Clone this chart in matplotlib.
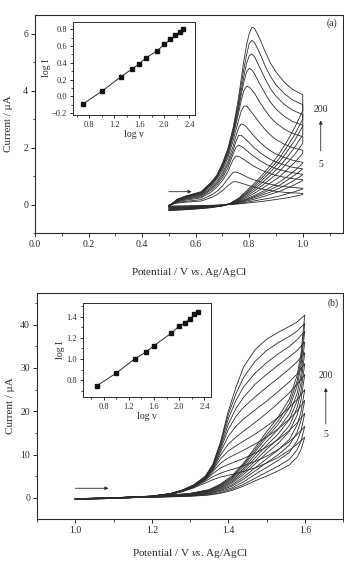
import matplotlib
matplotlib.use("Agg")
import matplotlib.pyplot as plt
import numpy as np
from matplotlib.ticker import MultipleLocator

plt.rcParams["font.family"] = ["Liberation Serif", "DejaVu Serif"]
plt.rcParams["mathtext.fontset"] = "custom"
plt.rcParams["mathtext.rm"] = "Liberation Serif"
plt.rcParams["mathtext.it"] = "Liberation Serif:italic"

INK = "#2b2b2b"

# ---- panel (a): CVs 0.5 -> 1.0 V, scan rates 5..200 mV/s ----
rates_a = [5, 10, 20, 30, 40, 50, 75, 100, 125, 150, 175, 200]
E_fwd_a = [0.50, 0.53, 0.56, 0.62, 0.66, 0.68, 0.70, 0.72,
           0.74, 0.75, 0.76, 0.77, 0.78, 0.79, 0.80, 0.81, 0.82, 0.84,
           0.86, 0.88, 0.90, 0.93, 0.96, 1.00]
I_fwd_a = [
    [-0.02, 0.05, 0.08, 0.12, 0.25, 0.35, 0.49, 0.66,
     0.80, 0.80, 0.78, 0.75, 0.72, 0.69, 0.66, 0.63, 0.61, 0.56,
     0.52, 0.49, 0.46, 0.43, 0.41, 0.39],
    [-0.03, 0.07, 0.11, 0.17, 0.34, 0.47, 0.65, 0.90,
     1.13, 1.14, 1.11, 1.07, 1.02, 0.97, 0.93, 0.89, 0.86, 0.80,
     0.75, 0.71, 0.67, 0.63, 0.60, 0.57],
    [-0.03, 0.09, 0.15, 0.23, 0.45, 0.62, 0.84, 1.15,
     1.58, 1.70, 1.69, 1.64, 1.58, 1.51, 1.45, 1.39, 1.33, 1.23,
     1.15, 1.08, 1.02, 0.96, 0.91, 0.87],
    [-0.04, 0.11, 0.18, 0.27, 0.52, 0.70, 0.94, 1.28,
     1.78, 2.00, 2.08, 2.04, 1.98, 1.90, 1.82, 1.74, 1.67, 1.54,
     1.43, 1.34, 1.26, 1.18, 1.12, 1.06],
    [-0.04, 0.12, 0.20, 0.30, 0.57, 0.76, 1.02, 1.40,
     1.90, 2.20, 2.42, 2.43, 2.35, 2.26, 2.17, 2.07, 1.98, 1.82,
     1.69, 1.58, 1.49, 1.39, 1.31, 1.25],
    [-0.05, 0.13, 0.22, 0.33, 0.62, 0.82, 1.10, 1.50,
     2.05, 2.40, 2.68, 2.83, 2.80, 2.72, 2.60, 2.49, 2.38, 2.18,
     2.02, 1.88, 1.77, 1.65, 1.56, 1.48],
    [-0.05, 0.14, 0.24, 0.36, 0.68, 0.90, 1.20, 1.64,
     2.25, 2.60, 2.95, 3.28, 3.45, 3.45, 3.35, 3.22, 3.10, 2.85,
     2.62, 2.43, 2.28, 2.12, 2.00, 1.90],
    [-0.05, 0.15, 0.25, 0.38, 0.72, 0.95, 1.28, 1.74,
     2.40, 2.80, 3.20, 3.65, 4.00, 4.15, 4.12, 4.02, 3.90, 3.58,
     3.30, 3.05, 2.86, 2.65, 2.50, 2.38],
    [-0.06, 0.16, 0.26, 0.40, 0.74, 0.98, 1.32, 1.80,
     2.48, 2.90, 3.35, 3.85, 4.30, 4.65, 4.78, 4.72, 4.58, 4.22,
     3.88, 3.58, 3.35, 3.10, 2.92, 2.78],
    [-0.06, 0.17, 0.27, 0.42, 0.76, 1.00, 1.36, 1.85,
     2.55, 3.00, 3.45, 4.00, 4.50, 4.95, 5.22, 5.28, 5.18, 4.80,
     4.40, 4.05, 3.80, 3.52, 3.32, 3.15],
    [-0.07, 0.17, 0.28, 0.43, 0.78, 1.02, 1.40, 1.90,
     2.62, 3.10, 3.60, 4.20, 4.75, 5.25, 5.65, 5.76, 5.68, 5.30,
     4.85, 4.48, 4.20, 3.90, 3.68, 3.50],
    [-0.07, 0.18, 0.29, 0.45, 0.80, 1.05, 1.45, 1.95,
     2.70, 3.20, 3.75, 4.40, 5.05, 5.60, 6.00, 6.22, 6.18, 5.80,
     5.35, 4.95, 4.65, 4.30, 4.05, 3.85],
]
E_rev_a = [1.00, 0.97, 0.94, 0.91, 0.88, 0.85, 0.82, 0.79, 0.76, 0.73,
           0.70, 0.65, 0.60, 0.55, 0.50]
I_rev_a = [
    [0.35, 0.29, 0.23, 0.19, 0.15, 0.11, 0.08, 0.05, 0.02, 0.00, -0.01, -0.03, -0.04, -0.05, -0.05],
    [0.55, 0.45, 0.37, 0.29, 0.23, 0.18, 0.13, 0.08, 0.04, 0.00, -0.02, -0.04, -0.05, -0.06, -0.07],
    [0.85, 0.70, 0.57, 0.45, 0.36, 0.27, 0.19, 0.12, 0.06, 0.01, -0.02, -0.05, -0.07, -0.08, -0.09],
    [1.05, 0.86, 0.70, 0.56, 0.44, 0.34, 0.24, 0.15, 0.07, 0.01, -0.02, -0.06, -0.08, -0.10, -0.11],
    [1.25, 1.03, 0.84, 0.66, 0.53, 0.40, 0.28, 0.18, 0.08, 0.01, -0.03, -0.06, -0.09, -0.11, -0.12],
    [1.45, 1.19, 0.97, 0.77, 0.61, 0.46, 0.32, 0.20, 0.10, 0.02, -0.03, -0.07, -0.10, -0.12, -0.13],
    [1.80, 1.48, 1.21, 0.95, 0.76, 0.57, 0.40, 0.25, 0.12, 0.02, -0.03, -0.08, -0.11, -0.13, -0.15],
    [2.15, 1.76, 1.44, 1.14, 0.90, 0.68, 0.48, 0.30, 0.14, 0.03, -0.04, -0.09, -0.12, -0.15, -0.17],
    [2.45, 2.01, 1.64, 1.30, 1.03, 0.78, 0.55, 0.35, 0.16, 0.03, -0.04, -0.10, -0.13, -0.16, -0.18],
    [2.75, 2.25, 1.84, 1.46, 1.15, 0.87, 0.62, 0.39, 0.18, 0.04, -0.04, -0.10, -0.14, -0.17, -0.19],
    [3.00, 2.46, 2.01, 1.59, 1.26, 0.96, 0.68, 0.43, 0.20, 0.04, -0.05, -0.11, -0.15, -0.18, -0.20],
    [3.30, 2.70, 2.20, 1.75, 1.38, 1.05, 0.75, 0.48, 0.22, 0.05, -0.05, -0.12, -0.16, -0.19, -0.21],
]
logv_a = [0.699, 1.0, 1.301, 1.477, 1.602, 1.699, 1.875, 2.0, 2.097, 2.176, 2.243, 2.301]
logI_a = [-0.09, 0.062, 0.232, 0.324, 0.39, 0.455, 0.538, 0.62, 0.68, 0.729, 0.768, 0.80]

# ---- panel (b): CVs 1.0 -> 1.6 V ----
rates_b = [5, 10, 20, 30, 40, 50, 75, 100, 125, 150, 175, 200]
E_fwd_b = [1.00, 1.10, 1.20, 1.25, 1.28, 1.31, 1.34, 1.36, 1.38, 1.40,
           1.42, 1.44, 1.47, 1.50, 1.53, 1.56, 1.58, 1.60]
I_fwd_b = [
    [-0.19, 0.00, 0.30, 0.80, 1.42, 2.30, 3.40, 4.20, 4.8, 5.2, 5.6, 6.1, 6.9, 8.0, 9.3, 11.0, 12.4, 14.0],
    [-0.20, 0.00, 0.31, 0.82, 1.48, 2.45, 3.80, 4.90, 5.7, 6.3, 6.8, 7.4, 8.4, 9.6, 11.1, 13.0, 14.6, 16.5],
    [-0.21, 0.00, 0.32, 0.84, 1.52, 2.55, 4.05, 5.60, 6.9, 7.7, 8.4, 9.1, 10.3, 11.7, 13.4, 15.6, 17.3, 19.5],
    [-0.22, 0.00, 0.33, 0.86, 1.55, 2.60, 4.20, 6.10, 8.0, 9.2, 10.1, 11.0, 12.4, 14.0, 15.9, 18.2, 20.0, 22.5],
    [-0.23, 0.00, 0.34, 0.88, 1.58, 2.65, 4.30, 6.40, 9.0, 10.8, 12.0, 13.1, 14.7, 16.5, 18.5, 20.9, 22.7, 25.0],
    [-0.24, 0.00, 0.35, 0.90, 1.62, 2.70, 4.40, 6.60, 9.9, 12.4, 14.0, 15.4, 17.4, 19.5, 21.8, 24.3, 26.2, 28.5],
    [-0.25, 0.00, 0.36, 0.92, 1.66, 2.75, 4.50, 6.80, 10.6, 14.2, 16.5, 18.2, 20.3, 22.3, 24.5, 26.8, 28.6, 31.0],
    [-0.26, 0.00, 0.37, 0.94, 1.70, 2.80, 4.60, 7.00, 11.2, 15.8, 18.8, 20.9, 23.3, 25.5, 27.6, 29.8, 31.4, 33.5],
    [-0.27, 0.00, 0.38, 0.96, 1.72, 2.85, 4.70, 7.20, 11.7, 17.0, 20.6, 23.2, 26.2, 28.5, 30.6, 32.6, 34.0, 36.0],
    [-0.28, 0.00, 0.39, 0.98, 1.75, 2.90, 4.80, 7.40, 12.2, 18.2, 22.5, 25.6, 28.8, 31.2, 33.2, 35.0, 36.5, 38.5],
    [-0.29, 0.00, 0.40, 1.00, 1.78, 2.95, 4.90, 7.60, 12.6, 19.2, 24.0, 27.8, 31.5, 34.0, 35.8, 37.3, 38.5, 40.3],
    [-0.30, 0.00, 0.40, 1.00, 1.80, 3.00, 5.00, 7.80, 13.0, 20.0, 25.5, 30.2, 34.2, 36.6, 38.2, 39.6, 40.6, 42.2],
]
E_rev_b = [1.60, 1.59, 1.58, 1.56, 1.53, 1.50, 1.47, 1.44, 1.41, 1.38,
           1.35, 1.30, 1.20, 1.10, 1.00]
I_rev_b = [
    [14.0, 11.1, 9.4, 7.6, 6.2, 5.0, 3.9, 2.7, 1.7, 1.05, 0.63, 0.34, 0.10, -0.05, -0.18],
    [16.5, 13.0, 11.1, 8.9, 7.3, 5.9, 4.5, 3.1, 2.0, 1.2, 0.74, 0.40, 0.12, -0.06, -0.20],
    [19.5, 15.4, 13.1, 10.5, 8.6, 7.0, 5.4, 3.7, 2.3, 1.5, 0.90, 0.47, 0.14, -0.07, -0.22],
    [22.5, 17.8, 15.1, 12.2, 9.9, 8.1, 6.2, 4.3, 2.7, 1.7, 1.0, 0.54, 0.16, -0.08, -0.24],
    [25.0, 19.8, 16.8, 13.5, 11.0, 9.0, 6.9, 4.8, 3.0, 1.9, 1.1, 0.60, 0.18, -0.09, -0.26],
    [28.5, 22.5, 19.1, 15.4, 12.5, 10.3, 7.8, 5.4, 3.4, 2.1, 1.3, 0.68, 0.20, -0.10, -0.28],
    [31.0, 24.5, 20.8, 16.7, 13.6, 11.2, 8.5, 5.9, 3.7, 2.3, 1.4, 0.74, 0.22, -0.11, -0.30],
    [33.5, 26.5, 22.4, 18.1, 14.7, 12.1, 9.2, 6.4, 4.0, 2.5, 1.5, 0.80, 0.23, -0.12, -0.32],
    [36.0, 28.4, 24.1, 19.4, 15.8, 13.0, 9.9, 6.8, 4.3, 2.7, 1.6, 0.90, 0.25, -0.13, -0.34],
    [38.5, 30.4, 25.8, 20.8, 16.9, 13.9, 10.6, 7.3, 4.6, 2.9, 1.7, 0.90, 0.30, -0.14, -0.36],
    [40.3, 31.8, 27.0, 21.8, 17.7, 14.5, 11.1, 7.7, 4.8, 3.0, 1.8, 1.0, 0.30, -0.15, -0.38],
    [42.2, 33.3, 28.3, 22.8, 18.6, 15.2, 11.6, 8.0, 5.1, 3.2, 1.9, 1.0, 0.30, -0.15, -0.40],
]
logv_b = [0.699, 1.0, 1.301, 1.477, 1.602, 1.875, 2.0, 2.097, 2.176, 2.243, 2.301]
logI_b = [0.75, 0.866, 1.004, 1.067, 1.126, 1.243, 1.309, 1.343, 1.381, 1.419, 1.44]


def style_axes(ax, size, lw=0.8):
    for sp in ax.spines.values():
        sp.set_linewidth(lw)
        sp.set_color(INK)
    ax.tick_params(which="both", direction="out", colors=INK, labelsize=size,
                   top=False, right=False, pad=2)
    ax.tick_params(which="major", length=3, width=0.7)
    ax.tick_params(which="minor", length=1.8, width=0.6)


def draw_cvs(ax, E_f, I_f, E_r, I_r):
    # forward sweep then return sweep as one trace per scan rate
    for fwd, rev in zip(I_f, I_r):
        ax.plot(list(E_f) + list(E_r), list(fwd) + list(rev), color=INK, lw=0.6)


def draw_inset(ax, x, y):
    ax.plot(x, y, "-s", color=INK, lw=0.7, ms=2.6, mfc="#111111", mec="#111111")
    style_axes(ax, 6, lw=0.7)
    ax.tick_params(which="major", length=2.2)
    ax.tick_params(which="minor", length=1.3)
    ax.xaxis.set_major_locator(MultipleLocator(0.4))
    ax.xaxis.set_minor_locator(MultipleLocator(0.2))
    ax.yaxis.set_major_locator(MultipleLocator(0.2))
    ax.yaxis.set_minor_locator(MultipleLocator(0.1))
    ax.set_xlabel("log v", fontsize=7, labelpad=1, color=INK)
    ax.set_ylabel("log I", fontsize=7, labelpad=1, color=INK)


xlab = r"Potential / V $\it{vs}$. Ag/AgCl"
arrow = dict(arrowstyle="-|>", lw=0.6, color=INK, mutation_scale=5, shrinkA=0, shrinkB=0)

fig = plt.figure(figsize=(3.44, 5.62), dpi=100)

# panel (a)
ax1 = fig.add_axes([0.1017, 0.5854, 0.8953, 0.3879])
draw_cvs(ax1, E_fwd_a, I_fwd_a, E_rev_a, I_rev_a)
ax1.set_xlim(0.0, 1.15)
ax1.set_ylim(-1.0, 6.65)
ax1.xaxis.set_major_locator(MultipleLocator(0.2))
ax1.xaxis.set_minor_locator(MultipleLocator(0.1))
ax1.yaxis.set_major_locator(MultipleLocator(2))
ax1.yaxis.set_minor_locator(MultipleLocator(1))
style_axes(ax1, 7)
ax1.set_xlabel(xlab, fontsize=8, labelpad=12, color=INK)
ax1.set_ylabel("Current / μA", fontsize=8, labelpad=7, color=INK)
ax1.text(1.11, 6.35, "(a)", fontsize=7, ha="center", va="center", color=INK)
ax1.text(1.067, 3.33, "200", fontsize=7, ha="center", va="center", color=INK)
ax1.text(1.067, 1.39, "5", fontsize=7, ha="center", va="center", color=INK)
ax1.annotate("", xy=(1.067, 2.95), xytext=(1.067, 1.88), arrowprops=arrow)
ax1.annotate("", xy=(0.585, 0.45), xytext=(0.50, 0.45), arrowprops=arrow)

ins1 = fig.add_axes([0.2122, 0.7954, 0.3547, 0.166])
draw_inset(ins1, logv_a, logI_a)
ins1.set_xlim(0.54, 2.49)
ins1.set_ylim(-0.22, 0.89)

# panel (b)
ax2 = fig.add_axes([0.1076, 0.0765, 0.8895, 0.4021])
draw_cvs(ax2, E_fwd_b, I_fwd_b, E_rev_b, I_rev_b)
ax2.set_xlim(0.9, 1.7)
ax2.set_ylim(-4.9, 47.3)
ax2.xaxis.set_major_locator(MultipleLocator(0.2))
ax2.xaxis.set_minor_locator(MultipleLocator(0.1))
ax2.yaxis.set_major_locator(MultipleLocator(10))
ax2.yaxis.set_minor_locator(MultipleLocator(5))
style_axes(ax2, 7)
ax2.set_xlabel(xlab, fontsize=8, labelpad=9, color=INK)
ax2.set_ylabel("Current / μA", fontsize=8, labelpad=4, color=INK)
ax2.text(1.675, 45.0, "(b)", fontsize=7, ha="center", va="center", color=INK)
ax2.text(1.655, 28.2, "200", fontsize=7, ha="center", va="center", color=INK)
ax2.text(1.655, 14.7, "5", fontsize=7, ha="center", va="center", color=INK)
ax2.annotate("", xy=(1.655, 25.4), xytext=(1.655, 17.0), arrowprops=arrow)
ax2.annotate("", xy=(1.087, 2.2), xytext=(1.0, 2.2), arrowprops=arrow)

ins2 = fig.add_axes([0.2404, 0.2941, 0.3721, 0.1673])
draw_inset(ins2, logv_b, logI_b)
ins2.set_xlim(0.47, 2.5)
ins2.set_ylim(0.645, 1.53)

fig.savefig("out.png", dpi=100)
